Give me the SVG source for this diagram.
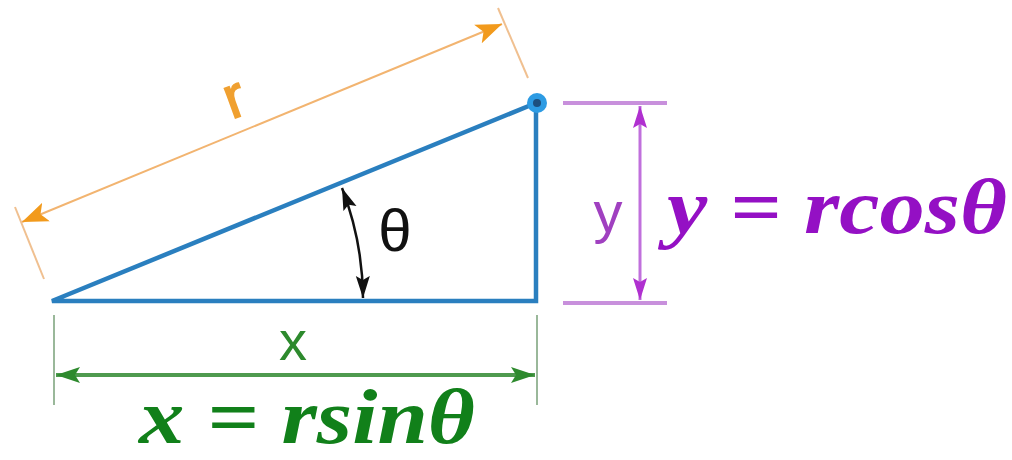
<svg xmlns="http://www.w3.org/2000/svg" width="1012" height="460" viewBox="0 0 1012 460">
<style>
.ext-o{stroke:#f0c090;stroke-width:2;fill:none}
.ext-p{stroke:#c890dc;stroke-width:4;fill:none}
.ext-g{stroke:#9ab89a;stroke-width:2;fill:none}
.tri{stroke:#2a7fbf;stroke-width:4.5;fill:none;stroke-linejoin:miter}
.lbl{font-family:"Liberation Sans",Arial,sans-serif}
.eq{font-family:"Liberation Serif","DejaVu Serif",serif;font-weight:bold;font-style:italic;font-size:78px}
</style>
<defs>
<marker id="ao" markerUnits="userSpaceOnUse" markerWidth="30" markerHeight="24" refX="26" refY="12" orient="auto-start-reverse"><path d="M0,2 L26,12 L0,22 L6,12 Z" fill="#f29a1c"/></marker>
<marker id="ap" markerUnits="userSpaceOnUse" markerWidth="24" markerHeight="18" refX="22" refY="9" orient="auto-start-reverse"><path d="M0,2 L22,9 L0,16 L4,9 Z" fill="#b030d0"/></marker>
<marker id="ag" markerUnits="userSpaceOnUse" markerWidth="26" markerHeight="20" refX="24" refY="10" orient="auto-start-reverse"><path d="M0,2 L24,10 L0,18 L5,10 Z" fill="#2e8a2e"/></marker>
<marker id="ak" markerUnits="userSpaceOnUse" markerWidth="24" markerHeight="16" refX="22" refY="8" orient="auto-start-reverse"><path d="M0,1 L22,8 L0,15 L4,8 Z" fill="#111"/></marker>
</defs>

<g id="triangle">
<path class="tri" d="M52,301 L536,301 L536,103 Z"/>
</g>
<g id="point">
<circle cx="537" cy="103" r="10" fill="#2d9be3"/>
<circle cx="537" cy="103" r="4" fill="#1d4f7e"/>
</g>

<g id="connectors">
<line class="ext-o" x1="15" y1="207" x2="44" y2="279"/>
<line class="ext-o" x1="498" y1="8" x2="528" y2="78"/>
<line x1="22" y1="222" x2="502" y2="24" stroke="#f2b470" stroke-width="2" marker-start="url(#ao)" marker-end="url(#ao)"/>
<line class="ext-p" x1="563" y1="103" x2="667" y2="103"/>
<line class="ext-p" x1="563" y1="303" x2="667" y2="303"/>
<line x1="640" y1="106" x2="640" y2="300" stroke="#c070dc" stroke-width="3" marker-start="url(#ap)" marker-end="url(#ap)"/>
<line class="ext-g" x1="54" y1="315" x2="54" y2="405"/>
<line class="ext-g" x1="537" y1="315" x2="537" y2="405"/>
<line x1="56" y1="375" x2="535" y2="375" stroke="#4f9a4f" stroke-width="4" marker-start="url(#ag)" marker-end="url(#ag)"/>
<path d="M342,188 A311,311 0 0 1 363,298" fill="none" stroke="#111" stroke-width="2.5" marker-start="url(#ak)" marker-end="url(#ak)"/>
</g>

<g id="labels">
<text class="lbl" x="235" y="117" font-size="60" fill="#f0a030" stroke="#f0a030" stroke-width="1.5" text-anchor="middle" transform="rotate(-20 235 100)">r</text>
<text class="lbl" x="395" y="251" font-size="60" fill="#111" text-anchor="middle">θ</text>
<text class="lbl" x="608" y="232" font-size="58" fill="#a040c0" text-anchor="middle">y</text>
<text class="lbl" x="293" y="360" font-size="56" fill="#2d8a2d" text-anchor="middle">x</text>
<text class="eq" x="667" y="233" fill="#9410c4" textLength="340" lengthAdjust="spacingAndGlyphs">y = rcosθ</text>
<text class="eq" x="139" y="443" font-size="74" fill="#11801a" textLength="336" lengthAdjust="spacingAndGlyphs">x = rsinθ</text>
</g>
</svg>
